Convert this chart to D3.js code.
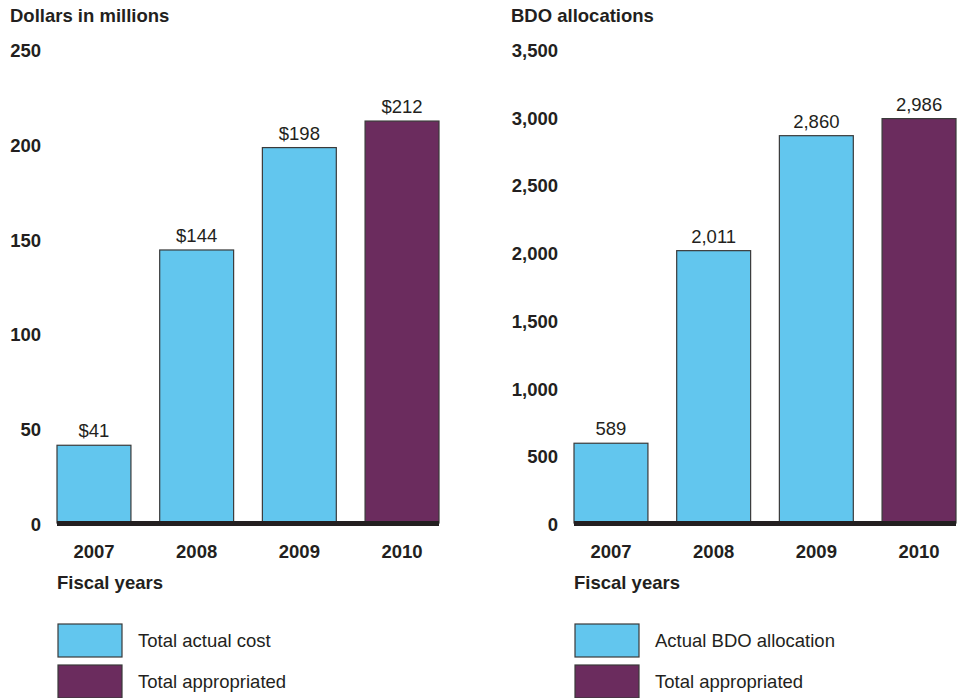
<!DOCTYPE html>
<html>
<head>
<meta charset="utf-8">
<script src="https://cdn.jsdelivr.net/npm/d3@7"></script>
<style>
  body { margin: 0; background: #fff; }
  text { font-family: "Liberation Sans", Arial, Helvetica, sans-serif; fill: #231f20; }
</style>
</head>
<body>
<svg id="chart" width="962" height="698"></svg>
<script>
// data
var years = ["2007", "2008", "2009", "2010"];
var costValues = [41, 144, 198, 212];
var bdoValues = [589, 2011, 2860, 2986];
var costTicks = [0, 50, 100, 150, 200, 250];
var bdoTicks = [0, 500, 1000, 1500, 2000, 2500, 3000, 3500];
var seriesKind = ["actual", "actual", "actual", "appropriated"];
var costLegend = ["Total actual cost", "Total appropriated"];
var bdoLegend = ["Actual BDO allocation", "Total appropriated"];

var blue = "#62c6ee", purple = "#6b2c5e";
var color = d3.scaleOrdinal().domain(["actual", "appropriated"]).range([blue, purple]);
var fs = 18.5;

var svg = d3.select("#chart");

function panel(opts) {
  var g = svg.append("g");

  var x = d3.scaleBand()
    .domain(years)
    .range([opts.x0, opts.x1])
    .paddingInner(0.28)
    .paddingOuter(0);

  var y = d3.scaleLinear()
    .domain([0, opts.max])
    .range([523, 49]);

  // title
  g.append("text")
    .attr("x", opts.titleX)
    .attr("y", 22)
    .attr("font-size", fs)
    .attr("font-weight", "bold")
    .text(opts.title);

  // y tick labels
  g.selectAll(".ytick")
    .data(opts.ticks)
    .enter().append("text")
    .attr("class", "ytick")
    .attr("x", opts.labelRight)
    .attr("y", function(d) { return y(d) + 8; })
    .attr("text-anchor", "end")
    .attr("font-size", fs)
    .attr("font-weight", "bold")
    .text(function(d) { return d3.format(",")(d); });

  // bars
  g.selectAll(".bar")
    .data(opts.values)
    .enter().append("rect")
    .attr("class", "bar")
    .attr("x", function(d, i) { return x(years[i]); })
    .attr("y", function(d) { return y(d); })
    .attr("width", x.bandwidth())
    .attr("height", function(d) { return y(0) - y(d); })
    .attr("fill", function(d, i) { return color(seriesKind[i]); })
    .attr("stroke", "#3a3a3a")
    .attr("stroke-width", 1.2);

  // value labels
  g.selectAll(".val")
    .data(opts.values)
    .enter().append("text")
    .attr("class", "val")
    .attr("x", function(d, i) { return x(years[i]) + x.bandwidth() / 2; })
    .attr("y", function(d) { return y(d) - 8; })
    .attr("text-anchor", "middle")
    .attr("font-size", fs)
    .text(function(d) { return opts.prefix + d3.format(",")(d); });

  // baseline
  g.append("rect")
    .attr("x", opts.x0)
    .attr("y", y(0) - 2)
    .attr("width", opts.x1 - opts.x0)
    .attr("height", 5)
    .attr("fill", "#231f20");

  // x labels
  g.selectAll(".xlab")
    .data(years)
    .enter().append("text")
    .attr("class", "xlab")
    .attr("x", function(d) { return x(d) + x.bandwidth() / 2; })
    .attr("y", 558)
    .attr("text-anchor", "middle")
    .attr("font-size", fs)
    .attr("font-weight", "bold")
    .text(function(d) { return d; });

  g.append("text")
    .attr("x", opts.x0)
    .attr("y", 589)
    .attr("font-size", fs)
    .attr("font-weight", "bold")
    .text("Fiscal years");

  // legend
  var leg = g.selectAll(".leg")
    .data(opts.legend)
    .enter().append("g")
    .attr("class", "leg")
    .attr("transform", function(d, i) { return "translate(" + (opts.x0 + 1) + "," + (624 + i * 41) + ")"; });

  leg.append("rect")
    .attr("width", 64)
    .attr("height", 33)
    .attr("fill", function(d, i) { return i === 0 ? blue : purple; })
    .attr("stroke", "#3a3a3a")
    .attr("stroke-width", 1.2);

  leg.append("text")
    .attr("x", 80)
    .attr("y", 23)
    .attr("font-size", fs)
    .text(function(d) { return d; });
}

panel({
  title: "Dollars in millions", titleX: 10, labelRight: 41,
  x0: 57, x1: 439, max: 250, ticks: costTicks, values: costValues,
  prefix: "$", legend: costLegend
});

panel({
  title: "BDO allocations", titleX: 511, labelRight: 558,
  x0: 574, x1: 956, max: 3500, ticks: bdoTicks, values: bdoValues,
  prefix: "", legend: bdoLegend
});
</script>
</body>
</html>
